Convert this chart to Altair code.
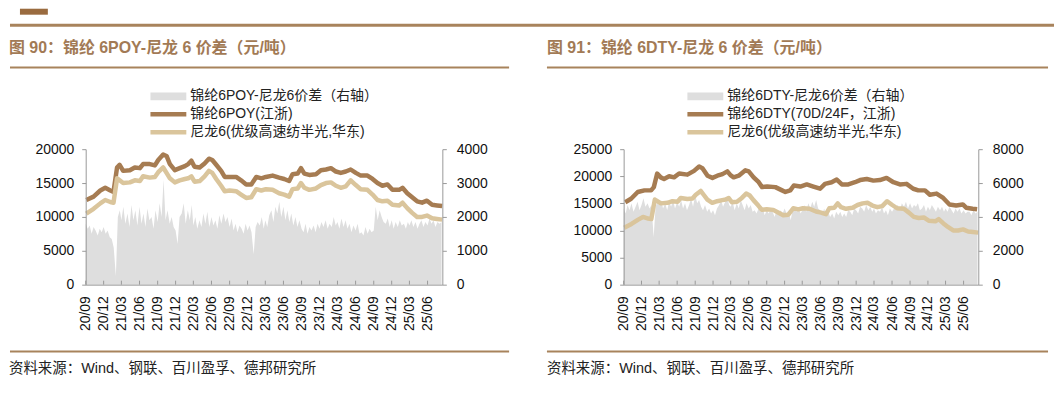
import altair as alt
import pandas as pd

# ---------------- data ----------------
POY_DATES = ["2020-09-04","2020-10-11","2020-11-14","2020-12-09","2021-01-04","2021-01-20","2021-02-07","2021-02-20","2021-03-10","2021-04-13",
             "2021-05-08","2021-06-03","2021-06-19","2021-07-23","2021-08-18","2021-09-04","2021-09-29","2021-10-16","2021-11-02","2021-11-27",
             "2021-12-22","2022-01-17","2022-02-03","2022-02-19","2022-03-07","2022-04-02","2022-04-27","2022-05-19","2022-06-05","2022-06-25",
             "2022-07-20","2022-08-07","2022-09-01","2022-10-04","2022-10-29","2022-11-24","2022-12-20","2023-01-14","2023-02-09","2023-03-04",
             "2023-04-07","2023-05-10","2023-06-05","2023-06-30","2023-07-17","2023-08-12","2023-08-29","2023-09-15","2023-10-10","2023-11-13",
             "2023-12-08","2024-01-03","2024-01-28","2024-02-22","2024-03-18","2024-04-12","2024-05-07","2024-06-02","2024-06-27","2024-07-31",
             "2024-08-26","2024-09-20","2024-10-15","2024-11-10","2024-12-05","2025-01-08","2025-01-25","2025-02-18","2025-03-15","2025-04-09",
             "2025-05-04","2025-05-29","2025-06-24","2025-07-19","2025-08-14"]
POY = [12500,13000,13900,14300,13900,13700,17300,17700,16800,16900,
       17300,17200,17800,17800,17600,18400,19200,19000,17800,16900,
       17200,17500,17800,18300,17400,17300,17900,18600,18400,17700,
       16800,15900,15900,15900,15400,14800,14800,15900,15700,15900,
       16100,15800,15600,15300,16300,16400,17200,16400,16200,16300,
       16900,17000,17200,16700,16500,16700,17000,16500,16100,16100,
       15600,15000,14600,14800,14000,14000,14300,13500,12900,12300,
       12100,12400,11800,11700,11600]
NYLON = [10500,11200,12000,12500,12200,12100,15700,15400,15000,15100,
         15400,15300,16000,15800,15900,16600,17300,16500,15700,15100,
         15400,15600,15700,16000,15200,15300,16000,16800,16500,15600,
         14600,13800,13900,13800,13300,12800,12900,14100,13900,14100,
         14000,13500,13300,13000,14100,14200,15000,14300,14000,14200,
         14700,15000,15100,14600,14300,14500,15400,14700,14100,14000,
         13300,12500,12300,12400,11800,11700,12100,11300,10600,10000,
         10000,10200,9800,9700,9600]

DTY_DATES = ["2020-09-09","2020-10-09","2020-11-12","2020-12-16","2021-01-19","2021-02-02","2021-02-19","2021-03-09","2021-03-26","2021-04-21",
             "2021-05-16","2021-06-11","2021-07-23","2021-08-26","2021-09-21","2021-10-08","2021-11-03","2021-11-28","2021-12-23","2022-01-18",
             "2022-02-12","2022-02-28","2022-03-16","2022-04-11","2022-05-15","2022-06-01","2022-06-26","2022-07-22","2022-08-08","2022-09-03",
             "2022-10-15","2022-11-18","2022-12-05","2022-12-30","2023-01-17","2023-02-19","2023-03-24","2023-04-27","2023-05-31","2023-06-25",
             "2023-07-29","2023-08-24","2023-09-19","2023-10-22","2023-11-25","2023-12-21","2024-01-24","2024-02-27","2024-03-31","2024-05-04",
             "2024-06-08","2024-07-11","2024-08-14","2024-09-17","2024-10-13","2024-11-16","2024-12-11","2025-01-14","2025-02-17","2025-03-21",
             "2025-04-24","2025-05-28","2025-06-14","2025-07-17","2025-08-09"]
DTY = [15200,15850,17100,17400,17400,18000,20500,19800,19500,20000,
       19800,20500,20300,21000,21800,21500,20100,19700,20100,20400,
       20900,20200,19800,20100,21100,20900,19800,18900,18000,18100,
       18000,17400,17100,17400,18300,18100,18500,18100,17700,18600,
       18900,19400,18500,18500,18900,19300,19500,19200,19300,19700,
       18900,18500,18600,17700,17400,17400,16600,16800,16000,14800,
       14600,14800,14200,14000,13900]

# spreads, three readings per month (1st, 11th, 21st), 2020-09 .. 2025-08
POY_SPREAD = [
    1800,1650,1750, 1500,1700,1600, 1450,1650,1550, 1700,1500,1600,                      # 2020
    1400,1350,1100, 250,2000,2200, 1900,2300,1800, 2100,1700,2350, 1900,2200,1750,
    2300,1800,2100, 1700,2250,1900, 2000,1650,2200, 1850,2400,2000, 3100,1900,2200,
    1800,2000,1700, 1600,1200,2000,                                                      # 2021
    2100,2400,1800, 2200,1900,2350, 1750,2000,1650, 1900,1700,2100, 1800,2150,1700,
    2000,1750,1900, 1650,2050,1800, 2100,1850,2000, 1700,1950,1600, 1800,1550,1750,
    1650,1500,1800, 1600,1750,1550,                                                      # 2022
    900,1700,1850, 1750,2000,1650, 1900,1700,2050, 2200,1850,2300, 2100,2450,2000,
    2300,1900,2200, 1850,2100,1750, 2000,1700,1900, 1650,1550,1800, 1500,1700,1600,
    1750,1550,1800, 1650,1850,1700,                                                      # 2023
    1900,1650,1800, 1700,2000,1750, 1850,1650,1950, 1700,1900,1650, 1800,1550,1750,
    1600,1800,1500, 1550,1450,1700, 1500,1650,1550, 1600,2300,1900, 2200,2000,1850,
    1800,1950,1700, 1900,1650,1850,                                                      # 2024
    1700,1900,1750, 1800,1650,1850, 1750,1900,1700, 1850,1650,1800, 1900,1700,1850,
    1750,1950,1800, 1900,1700,1850, 1800,1850]                                           # 2025
DTY_SPREAD = [
    4500,4200,4700, 4400,4800,4300, 4600,4900,4400, 4700,5100,4600,                      # 2020
    4800,4500,4700, 2800,4600,4900, 4700,5000,4500, 4800,4400,4900, 4600,5000,4500,
    4900,4600,5000, 4500,4800,4400, 4700,5100,4600, 5300,4800,5000, 4600,4400,4700,
    4300,4500,4200, 4400,4100,4500,                                                      # 2021
    4700,5000,4600, 4900,5200,4700, 4600,4900,4400, 4800,4500,5000, 4700,4400,4800,
    4500,4700,4300, 4400,4200,4500, 4300,4600,4100, 4400,4200,4500, 4300,4000,4400,
    4100,4400,4200, 4500,4200,4400,                                                      # 2022
    3800,4400,4600, 4300,4500,4200, 4400,4700,4300, 4800,4500,4900, 4600,5000,4500,
    4400,4200,4500, 4100,4300,4000, 4200,3900,4300, 4100,4300,4000, 4200,4000,4400,
    4300,4100,4500, 4400,4200,4600,                                                      # 2023
    4500,4300,4700, 4400,4600,4300, 4500,4200,4400, 4300,4600,4200, 4400,4100,4500,
    4300,4500,4600, 4700,4400,4800, 4600,4900,4500, 4800,4500,4700, 4600,4800,4400,
    4500,4700,4300, 4600,4400,4700,                                                      # 2024
    4500,4300,4600, 4400,4600,4300, 4500,4300,4600, 4400,4200,4500, 4300,4500,4200,
    4400,4200,4300, 4300,4100,4400, 4200,4300]                                           # 2025

SPREAD_DATES = []
for yr in range(2020, 2026):
    for mo in range(1, 13):
        if (yr, mo) < (2020, 9) or (yr, mo) > (2025, 8):
            continue
        for d in (1, 11, 21):
            if (yr, mo) == (2025, 8) and d == 21:
                continue
            SPREAD_DATES.append(f"{yr}-{mo:02d}-{d:02d}")

QUARTERS = [(y, m) for y in range(2020, 2026) for m in (3, 6, 9, 12)
            if (2020, 9) <= (y, m) <= (2025, 6)]

# ---------------- style ----------------
FONT = "Liberation Sans, Arial, Noto Sans CJK SC, sans-serif"
BROWN = "#a67c52"
TAN = "#dac59c"
AREA_C = "#dedede"
RULE_C = "#a8835c"
TITLE_C = "#a27a55"
AX_C = "#9a9a9a"

one = pd.DataFrame({"k": [0]})


def txt(s, x, y, size=14, color="#222", weight="normal", align="left"):
    return alt.Chart(one).mark_text(align=align, baseline="middle", font=FONT, fontSize=size,
                                    color=color, fontWeight=weight).encode(
        x=alt.value(x), y=alt.value(y), text=alt.value(s))


def hrule(x1, x2, y, color, w):
    return alt.Chart(one).mark_rule(color=color, strokeWidth=w).encode(
        x=alt.value(x1), x2=alt.value(x2), y=alt.value(y))


def box(x1, x2, y1, y2, color):
    return alt.Chart(one).mark_rect(color=color, strokeWidth=0).encode(
        x=alt.value(x1), x2=alt.value(x2), y=alt.value(y1), y2=alt.value(y2))


def panel(W, H, spread, line_a_dates, line_a, line_a_name, ldom, lstep, rdom, rstep,
          title, leg_labels, leg_x, extra):
    xsc = alt.Scale(domain=[alt.DateTime(year=2020, month=9, date=1),
                            alt.DateTime(year=2025, month=8, date=15)])
    xaxis = alt.Axis(values=[alt.DateTime(year=y, month=m, date=1) for y, m in QUARTERS],
                     format="%y/%m", labelAngle=270, labelFlush=False, labelOverlap=False,
                     ticks=False, tickSize=0, labelPadding=11, domainColor=AX_C,
                     labelFont=FONT, labelFontSize=14, labelColor="#111", grid=False,
                     title=None, zindex=2)
    xenc = alt.X("date:T", scale=xsc, axis=xaxis)

    area_df = pd.DataFrame({"date": SPREAD_DATES, "v": spread})
    line_df = pd.concat([
        pd.DataFrame({"date": line_a_dates, "v": line_a, "s": line_a_name}),
        pd.DataFrame({"date": POY_DATES, "v": NYLON, "s": "尼龙6"}),
    ])
    tick_df = pd.DataFrame({"date": [f"{y}-{m:02d}-01" for y, m in QUARTERS]})

    area = alt.Chart(area_df).mark_area(color=AREA_C, interpolate="linear").encode(
        x=xenc,
        y=alt.Y("v:Q", scale=alt.Scale(domain=rdom, nice=False),
                axis=alt.Axis(orient="right", values=list(range(rdom[0], rdom[1] + 1, rstep)),
                              format="d", tickSize=4, tickColor=AX_C, domainColor=AX_C,
                              labelPadding=10, labelFont=FONT, labelFontSize=14,
                              labelColor="#111", grid=False, title=None, zindex=2)))
    lines = alt.Chart(line_df).mark_line(strokeWidth=4.5, strokeJoin="round").encode(
        x=xenc,
        y=alt.Y("v:Q", scale=alt.Scale(domain=ldom, nice=False),
                axis=alt.Axis(orient="left", values=list(range(ldom[0], ldom[1] + 1, lstep)),
                              format="d", tickSize=4, tickColor=AX_C, domainColor=AX_C,
                              labelPadding=8, labelFont=FONT, labelFontSize=14,
                              labelColor="#111", grid=False, title=None, zindex=2)),
        color=alt.Color("s:N", scale=alt.Scale(domain=[line_a_name, "尼龙6"], range=[BROWN, TAN]),
                        legend=None))
    ticks = alt.Chart(tick_df).mark_rule(color=AX_C, strokeWidth=1).encode(
        x=xenc, y=alt.value(H), y2=alt.value(H - 4))

    deco = [
        txt(title, -77, -102, size=16, color=TITLE_C, weight="bold"),
        hrule(extra["rx1"], extra["rx2"], -82, RULE_C, 2),
        hrule(extra["rx1"], extra["rx2"], 203, RULE_C, 2),
        txt("资料来源：Wind、钢联、百川盈孚、德邦研究所", -77, 221, size=14.5, color="#222"),
        box(leg_x, leg_x + 36, -57, -49, AREA_C),
        hrule(leg_x, leg_x + 36, -35, BROWN, 4.5),
        hrule(leg_x, leg_x + 36, -17, TAN, 4.5),
        txt(leg_labels[0], leg_x + 40, -53),
        txt(leg_labels[1], leg_x + 40, -35),
        txt(leg_labels[2], leg_x + 40, -17),
    ]
    layers = extra.get("pre", []) + [area, lines, ticks] + deco
    return alt.layer(*layers).resolve_scale(y="independent", color="independent").properties(
        width=W, height=H)


left_pre = [
    box(-76, 972, -141, 236, "white"),          # page frame
    box(-66, -38, -141, -135, "#9a6b3f"),       # logo fragment
    hrule(-76, 972, -124.5, RULE_C, 3),         # header bar
]

left = panel(358, 136, POY_SPREAD, POY_DATES, POY, "锦纶6POY", [0, 20000], 5000, [0, 4000], 1000,
             "图 90：锦纶 6POY-尼龙 6 价差（元/吨）",
             ["锦纶6POY-尼龙6价差（右轴）", "锦纶6POY(江浙)", "尼龙6(优级高速纺半光,华东)"],
             65, {"rx1": -76, "rx2": 425, "pre": left_pre})
right = panel(356, 136, DTY_SPREAD, DTY_DATES, DTY, "锦纶6DTY", [0, 25000], 5000, [0, 8000], 2000,
              "图 91：锦纶 6DTY-尼龙 6 价差（元/吨）",
              ["锦纶6DTY-尼龙6价差（右轴）", "锦纶6DTY(70D/24F，江浙)", "尼龙6(优级高速纺半光,华东)"],
              64, {"rx1": -77, "rx2": 426})

chart = alt.hconcat(left, right, spacing=182, bounds="flush").properties(
    padding=0, background="white").configure_view(stroke=None)

chart.save("out.html", embed_options={"renderer": "svg", "actions": False})
